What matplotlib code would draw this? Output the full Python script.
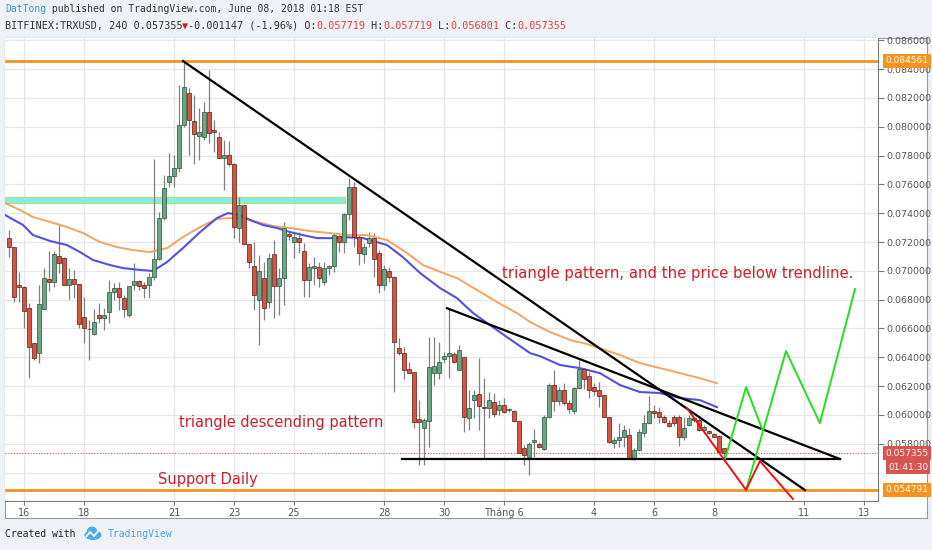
import numpy as np
import matplotlib
matplotlib.use("Agg")
import matplotlib.pyplot as plt
from matplotlib.patches import Ellipse, Polygon
from matplotlib.transforms import blended_transform_factory

# ---------------------------------------------------------------------------
# Data: TRXUSD 4h candles (Bitfinex), first bar = May 15 12:00, one bar per 4 h
# x axis is "day of May" (June 1 = 32)
# ---------------------------------------------------------------------------
first_bar_day = 15.5
bar_step = 1 / 6

opens = [
    .07227, .07165, .06901, .06887, .06741, .06499, .06429, .06735, .06944, .06922,
    .07102, .07088, .06901, .06944, .06908, .06679, .06597, .06561, .06693, .06672,
    .06714, .06853, .06880, .06811, .06693, .06901, .06929, .06901, .06901, .06957,
    .07082, .07366, .07616, .07658, .07713, .08012, .08234, .08040, .07935, .07928,
    .08102, .07977, .07928, .07782, .07803, .07741, .07297, .07456, .07186, .07033,
    .06797, .06950, .06783, .07116, .06894, .06950, .07255, .07200, .07227, .07137,
    .06936, .07019, .07026, .06922, .07019, .07033, .07241, .07200, .07394, .07581,
    .07234, .07116, .07193, .07227, .07123, .06901, .06999, .06957, .06464, .06429,
    .06319, .06297, .05972, .05908, .05957, .06290, .06290, .06388, .06408, .06422,
    .06311, .06401, .05978, .06103, .06145, .06054, .06047, .06089, .06034, .06068,
    .06034, .06027, .05957, .05770, .05707, .05812, .05798, .05764, .05985, .06207,
    .06096, .06173, .06082, .06027, .06186, .06319, .06269, .06193, .06173, .06138,
    .05985, .05805, .05826, .05846, .05860, .05700, .05756, .05874, .05943, .06027,
    .06020, .05985, .05943, .05985, .05985, .05846, .05929, .05978, .05964, .05895,
    .05888, .05867, .05853, .057719,
]
highs = [
    .07283, .07165, .06992, .06894, .06776, .06499, .06901, .07019, .07137, .07137,
    .07318, .07095, .07019, .07006, .06908, .06818, .06659, .06735, .06776, .06741,
    .06936, .06915, .06922, .06832, .06894, .07054, .06936, .06922, .06985, .07776,
    .07408, .07665, .07817, .07803, .08289, .08456, .08268, .08220, .08129, .08171,
    .08394, .08047, .07963, .07908, .07901, .07748, .07512, .07456, .07186, .07200,
    .07109, .07061, .07123, .07214, .07019, .07339, .07269, .07269, .07269, .07193,
    .07054, .07095, .07061, .07061, .07040, .07262, .07248, .07401, .07644, .07616,
    .07248, .07193, .07269, .07262, .07144, .07040, .07026, .06964, .06533, .06471,
    .06367, .06297, .06103, .05978, .06540, .06540, .06506, .06436, .06741, .06436,
    .06485, .06401, .06173, .06173, .06394, .06255, .06159, .06152, .06103, .06117,
    .06047, .06034, .05957, .05791, .05812, .05902, .05812, .05999, .06221, .06311,
    .06193, .06221, .06103, .06193, .06381, .06325, .06297, .06221, .06228, .06138,
    .05985, .05846, .05943, .05929, .05908, .05770, .05902, .05999, .06131, .06068,
    .06054, .05999, .05964, .05999, .05999, .05985, .05999, .05985, .05978, .05929,
    .05895, .05874, .05860, .057719,
]
lows = [
    .07095, .06783, .06783, .06603, .06255, .06381, .06360, .06735, .06860, .06887,
    .06985, .06901, .06805, .06811, .06603, .06499, .06381, .06554, .06638, .06589,
    .06638, .06797, .06728, .06679, .06679, .06867, .06867, .06811, .06811, .06936,
    .07075, .07353, .07581, .07581, .07686, .07998, .07803, .07741, .07769, .07908,
    .07887, .07824, .07782, .07561, .07727, .07227, .07200, .07179, .07019, .06728,
    .06485, .06659, .06741, .06672, .06693, .06762, .07214, .07088, .07123, .06818,
    .06818, .06901, .06887, .06901, .06971, .06992, .07130, .07123, .07353, .07165,
    .07040, .07054, .07165, .06957, .06846, .06867, .06922, .06159, .06415, .06249,
    .06290, .05908, .05652, .05652, .05777, .06207, .06249, .06360, .06255, .06360,
    .06311, .05881, .05895, .05978, .05895, .05700, .05978, .05985, .05999, .06013,
    .06020, .05950, .05735, .05652, .05582, .05707, .05770, .05756, .05978, .06027,
    .06068, .06068, .06013, .06006, .06180, .06180, .06117, .06138, .06054, .05985,
    .05805, .05770, .05777, .05777, .05694, .05687, .05749, .05846, .05936, .05978,
    .05943, .05943, .05915, .05922, .05784, .05826, .05922, .05950, .05888, .05881,
    .05867, .05846, .05735, .056801,
]
closes = [
    .07165, .06818, .06887, .06721, .06471, .06394, .06769, .06950, .06922, .07116,
    .07054, .06901, .06944, .06908, .06631, .06603, .06594, .06645, .06672, .06693,
    .06853, .06880, .06818, .06735, .06894, .06929, .06894, .06880, .06957, .07082,
    .07366, .07574, .07658, .07713, .08012, .08275, .08047, .07949, .07963, .08102,
    .07956, .07963, .07782, .07803, .07741, .07304, .07456, .07186, .07061, .06832,
    .06999, .06741, .07088, .06894, .06950, .07297, .07241, .07234, .07200, .06936,
    .07026, .07033, .06950, .07019, .07033, .07248, .07200, .07394, .07581, .07234,
    .07123, .07165, .07227, .07082, .06901, .07013, .06957, .06506, .06429, .06311,
    .06290, .05950, .05950, .05964, .06332, .06339, .06367, .06408, .06429, .06367,
    .06450, .05985, .06047, .06138, .06061, .06047, .06103, .06006, .06068, .06020,
    .06041, .05957, .05735, .05721, .05798, .05826, .05777, .05985, .06207, .06096,
    .06173, .06082, .06041, .06186, .06319, .06249, .06173, .06166, .06131, .05985,
    .05812, .05826, .05846, .05895, .05700, .05756, .05881, .05943, .06027, .06013,
    .05985, .05950, .05922, .05943, .05846, .05908, .05978, .05964, .05895, .05915,
    .05874, .05846, .05742, .057355,
]

# moving averages
ma_fast_days = [15.37, 15.97, 16.30, 16.87, 17.43, 17.87, 18.30, 18.87, 19.30, 19.87,
                20.30, 20.77, 21.30, 21.87, 22.43, 22.80, 23.20, 23.53, 23.97, 24.43,
                24.87, 25.30, 25.77, 26.20, 26.63, 27.30, 28.10, 28.63, 29.20, 29.87,
                30.43, 30.97, 31.53, 32.10, 32.87, 33.20, 33.87, 34.53, 35.20, 35.87,
                36.53, 37.20, 37.87, 38.53, 39.10]
ma_fast = [.07387, .07318, .07248, .07207, .07179, .07130, .07075, .07040, .07019, .07006,
           .06999, .07061, .07158, .07269, .07366, .07401, .07387, .07353, .07318, .07297,
           .07269, .07248, .07227, .07227, .07234, .07227, .07179, .07095, .06985, .06880,
           .06811, .06707, .06624, .06540, .06429, .06408, .06346, .06325, .06290, .06207,
           .06159, .06152, .06117, .06103, .06054]
ma_slow_days = [15.37, 15.87, 16.30, 16.87, 17.43, 17.97, 18.53, 19.10, 19.63, 20.20,
                20.77, 21.30, 21.87, 22.43, 22.87, 23.30, 23.77, 24.30, 24.87, 25.53,
                26.20, 26.87, 27.43, 28.10, 28.77, 29.30, 29.97, 30.43, 31.10, 31.77,
                32.43, 32.87, 33.53, 34.20, 34.77, 35.87, 36.53, 37.20, 37.87, 38.53, 39.10]
ma_slow = [.07470, .07422, .07373, .07339, .07304, .07262, .07200, .07165, .07144, .07130,
           .07158, .07234, .07304, .07360, .07366, .07366, .07339, .07311, .07297, .07276,
           .07262, .07248, .07248, .07214, .07123, .07040, .06985, .06950, .06867, .06783,
           .06707, .06645, .06576, .06520, .06492, .06415, .06360, .06325, .06290, .06255, .06221]

# drawings
resistance_level = 0.084561
support_level = 0.054791
last_price = 0.057355
zone_days = [15.37, 26.70]
zone_low, zone_high = 0.07470, 0.07512

trend_a_days, trend_a = [21.30, 42.03], [0.08456, 0.05479]
trend_b_days, trend_b = [30.10, 43.20], [0.06741, 0.05694]
flat_days, flat = [28.60, 43.20], [0.05694, 0.05694]
green_1_days, green_1 = [39.37, 40.07, 40.63], [0.05694, 0.06193, 0.05888]
green_2_days, green_2 = [40.07, 41.40, 42.53, 43.70], [0.05479, 0.06443, 0.05943, 0.06873]
red_path_days, red_path = [38.10, 40.07, 40.53, 41.63], [0.06047, 0.05479, 0.05680, 0.05417]

price_ticks = [0.058, 0.060, 0.062, 0.064, 0.066, 0.068, 0.070, 0.072, 0.074, 0.076,
               0.078, 0.080, 0.082, 0.084, 0.086]
hidden_grid = [0.056]   # gridline whose label sits under the countdown tag
tick_days = [16, 18, 21, 23, 25, 28, 30, 32, 35, 37, 39, 42, 44]
tick_labels = ["16", "18", "21", "23", "25", "28", "30", "Tháng 6", "4", "6", "8", "11", "13"]

# ---------------------------------------------------------------------------
# Figure layout (pixel helpers for a 932x550 canvas)
# ---------------------------------------------------------------------------
W, H = 932, 550


def fx(px):
    return px / W


def fy(py):
    return 1 - py / H


BG = "#eef1f6"
UP, UP_EDGE = "#6ba583", "#225437"
DOWN, DOWN_EDGE = "#d75442", "#5b1a13"
NOTE_RED = "#cc1f2a"
ORANGE = "#f7931a"
GRID = "#e7e7e7"

fig = plt.figure(figsize=(W / 100, H / 100), dpi=100, facecolor=BG)

# white chart frame incl. price / time scale (background axes, drawn first)
frame = fig.add_axes([fx(5), fy(518), fx(922), 480 / H], zorder=-5)
frame.set_xticks([])
frame.set_yticks([])
frame.set_facecolor("white")
for sp in frame.spines.values():
    sp.set_color("#9a9a9a")

ax = fig.add_axes([fx(5), fy(501), fx(873), 463 / H])
ax.set_facecolor("white")
ax.set_xlim(15.367, 44.467)
ax.set_ylim(0.054027, 0.086157)

# grid
ax.set_yticks(price_ticks)
ax.set_xticks(tick_days)
ax.grid(color=GRID, lw=0.9, zorder=0)
ax.set_axisbelow(True)
for g in hidden_grid:
    ax.axhline(g, color=GRID, lw=0.9, zorder=0)

# supply zone
ax.fill_between(zone_days, zone_low, zone_high, facecolor="#7ff0e6", edgecolor="#b5dc8c",
                lw=1.0, zorder=1)

# horizontal levels
ax.axhline(resistance_level, color=ORANGE, lw=2.0, zorder=2)
ax.axhline(support_level, color=ORANGE, lw=2.0, zorder=2)
ax.axhline(last_price, color="#d9534f", lw=0.8, ls=(0, (1, 1.5)), zorder=2)

# candles
x = first_bar_day + np.arange(len(opens)) * bar_step
o, h, l, c = map(np.array, (opens, highs, lows, closes))
up = c >= o
ax.vlines(x, l, h, color="#808080", lw=0.9, zorder=3)
body_lo = np.minimum(o, c)
body_h = np.maximum(np.abs(c - o), 0.00002)
ax.bar(x[up], body_h[up], bottom=body_lo[up], width=0.12, color=UP, edgecolor=UP_EDGE,
       lw=0.5, zorder=4)
ax.bar(x[~up], body_h[~up], bottom=body_lo[~up], width=0.12, color=DOWN, edgecolor=DOWN_EDGE,
       lw=0.5, zorder=4)

# moving averages
ax.plot(ma_slow_days, ma_slow, color="#f4a460", lw=1.4, zorder=3)
ax.plot(ma_fast_days, ma_fast, color="#5551e0", lw=1.5, zorder=3)

# trend lines & projections
for xs, ys in [(trend_a_days, trend_a), (trend_b_days, trend_b), (flat_days, flat)]:
    ax.plot(xs, ys, color="black", lw=1.6, zorder=5)
ax.plot(green_1_days, green_1, color="#22e01c", lw=1.4, zorder=5)
ax.plot(green_2_days, green_2, color="#22e01c", lw=1.4, zorder=5)
ax.plot(red_path_days, red_path, color="#ee1111", lw=1.4, zorder=5)

# notes
ax.text(31.93, 0.06978, "triangle pattern, and the price below trendline.", color=NOTE_RED,
        fontsize=10.7, va="center", ha="left", zorder=6)
ax.text(21.17, 0.05950, "triangle descending pattern", color=NOTE_RED,
        fontsize=10.5, va="center", ha="left", zorder=6)
ax.text(20.47, 0.05555, "Support Daily", color=NOTE_RED,
        fontsize=10.5, va="center", ha="left", zorder=6)

# axes styling
for side in ("left", "top"):
    ax.spines[side].set_visible(False)
for side in ("right", "bottom"):
    ax.spines[side].set_color("#7b7b7b")
ax.yaxis.tick_right()
ax.yaxis.set_major_formatter(matplotlib.ticker.FormatStrFormatter("%.6f"))
ax.tick_params(axis="y", labelsize=6.8, labelcolor="#555555", color="#7b7b7b",
               length=4, pad=2)
ax.set_xticklabels(tick_labels)
ax.tick_params(axis="x", labelsize=7, labelcolor="#555555", color="#7b7b7b",
               length=3, pad=2)

# price tags on the scale
tag_tr = blended_transform_factory(ax.transAxes, ax.transData)
tags = [(resistance_level, "0.084561", ORANGE), (support_level, "0.054791", ORANGE),
        (last_price, "0.057355", "#d9534f")]
for price, label, col in tags:
    ax.text(1.0085, price, label, transform=tag_tr, fontsize=6.5, color="white",
            va="center", ha="left", zorder=7, clip_on=False,
            bbox=dict(boxstyle="square,pad=0.25", fc=col, ec="none"))
ax.text(1.0115, last_price - 0.00097, "01:41:30", transform=tag_tr, fontsize=6.5,
        color="white", va="center", ha="left", zorder=7, clip_on=False,
        bbox=dict(boxstyle="square,pad=0.25", fc="#d9534f", ec="none"))

# ---------------------------------------------------------------------------
# Header and footer
# ---------------------------------------------------------------------------
MONO = "DejaVu Sans Mono"


def text_run(y_px, parts, size):
    char_px = 0.602 * size * 100 / 72
    cx = 5
    for s, col in parts:
        fig.text(fx(cx), fy(y_px), s, color=col, fontsize=size, family=MONO,
                 va="center", ha="left")
        cx += len(s) * char_px


DARK = "#333333"
RED = "#e0413a"
text_run(9, [("DatTong", "#3a9ad9"),
             (" published on TradingView.com, June 08, 2018 01:18 EST", DARK)], 7.0)
text_run(26, [("BITFINEX:TRXUSD, 240 0.057355", DARK), ("▼", "#d01c1c"),
              ("-0.001147 (-1.96%) O:", DARK), ("0.057719", RED), (" H:", DARK),
              ("0.057719", RED), (" L:", DARK), ("0.056801", RED), (" C:", DARK),
              ("0.057355", RED)], 7.3)

fig.text(fx(5), fy(534), "Created with", color="#222222", fontsize=7.0, family=MONO,
         va="center", ha="left")
logo_col = "#4eaee6"
fig.patches.append(Ellipse((fx(93), fy(535)), fx(17), 10 / H, transform=fig.transFigure,
                           facecolor=logo_col, edgecolor="none"))
fig.patches.append(Ellipse((fx(92), fy(531)), fx(10), 9 / H, transform=fig.transFigure,
                           facecolor=logo_col, edgecolor="none"))
fig.patches.append(Polygon([(fx(86), fy(537)), (fx(90), fy(532)), (fx(94), fy(536)),
                            (fx(99), fy(530))], closed=False, transform=fig.transFigure,
                           fill=False, edgecolor="white", lw=1.2))
fig.text(fx(108), fy(534), "TradingView", color="#4aa3df", fontsize=7.0, family=MONO,
         va="center", ha="left")

fig.savefig("out.png", dpi=100, facecolor=BG)
